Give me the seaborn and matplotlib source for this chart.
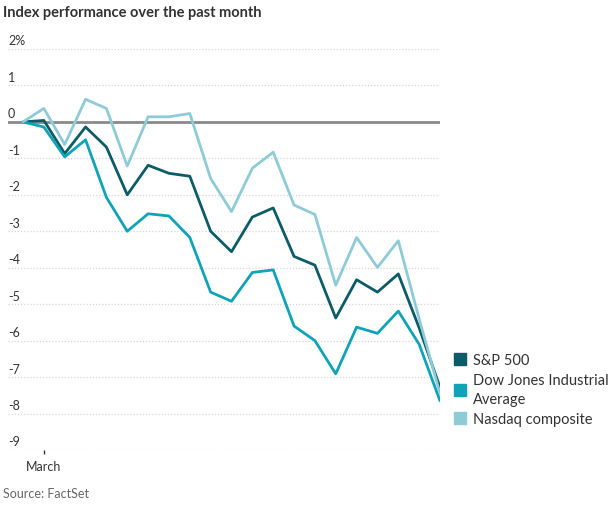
import pandas as pd
import matplotlib.pyplot as plt
import seaborn as sns
from matplotlib.lines import Line2D
from matplotlib.transforms import blended_transform_factory

# trading days, index 1 is the first session of March
days = list(range(21))
sp500 = [0, 0.04, -0.87, -0.14, -0.69, -2.00, -1.19, -1.41, -1.49, -3.00, -3.56,
         -2.61, -2.36, -3.69, -3.93, -5.38, -4.33, -4.67, -4.17, -5.65, -7.28]
dow = [0, -0.14, -0.96, -0.49, -2.07, -3.00, -2.52, -2.58, -3.17, -4.67, -4.92,
       -4.13, -4.06, -5.60, -6.00, -6.91, -5.63, -5.80, -5.19, -6.10, -7.65]
nasdaq = [0, 0.37, -0.62, 0.62, 0.37, -1.21, 0.14, 0.14, 0.23, -1.55, -2.46,
          -1.27, -0.83, -2.28, -2.54, -4.48, -3.17, -3.99, -3.26, -5.40, -7.45]

series_names = ["S&P 500", "Dow Jones Industrial\nAverage", "Nasdaq composite"]
colors = ["#0b5c66", "#0fa3b8", "#8ecbd7"]
y_ticks = [2, 1, 0, -1, -2, -3, -4, -5, -6, -7, -8, -9]
y_labels = ["2%", "1", "0", "-1", "-2", "-3", "-4", "-5", "-6", "-7", "-8", "-9"]

df = pd.DataFrame({
    "day": days * 3,
    "change": sp500 + dow + nasdaq,
    "index": [series_names[0]] * 21 + [series_names[1]] * 21 + [series_names[2]] * 21,
})

sns.set_style("white")
plt.rcParams["font.family"] = ["Lato", "DejaVu Sans"]

fig = plt.figure(figsize=(6.15, 5.06), dpi=100)
ax = fig.add_axes([8 / 615, 1 - 451 / 506, 432 / 615, 401 / 506])

# grid lines first so data sits on top
for t in y_ticks:
    if t == 0:
        ax.axhline(0, color="#8a8a8a", lw=2, zorder=1)
    else:
        ax.axhline(t, color="#ddd3da", lw=0.9, ls=(0, (1, 1.5)), zorder=0)

sns.lineplot(data=df, x="day", y="change", hue="index", palette=colors,
             linewidth=2, legend=False, ax=ax, zorder=3)

ax.set_xlim(-0.72, 20)
ax.set_ylim(-9, 2)
for s in ax.spines.values():
    s.set_visible(False)
ax.set_xlabel("")
ax.set_ylabel("")
ax.set_yticks([])
ax.set_xticks([1])
ax.set_xticklabels(["March"], fontsize=9, color="#333333")
ax.tick_params(axis="x", length=3, width=1, color="#333333", pad=4, bottom=True)

trans = blended_transform_factory(ax.transAxes, ax.transData)
for t, lab in zip(y_ticks, y_labels):
    ax.text(0, t + 0.07, lab, transform=trans, ha="left", va="bottom",
            fontsize=9, color="#333333")

handles = [Line2D([], [], ls="none", marker="s", markersize=8, color=c) for c in colors]
leg = fig.legend(handles, series_names, loc="upper left",
                 bbox_to_anchor=(454 / 615, 1 - 354 / 506),
                 frameon=False, fontsize=10.5, handlelength=0.8, handletextpad=0.5,
                 labelspacing=0.4, labelcolor="#333333", borderpad=0, borderaxespad=0)
for t in leg.get_texts():
    t.set_linespacing(1.45)

fig.text(3 / 615, 1 - 13 / 506, "Index performance over the past month",
         fontsize=10.5, fontweight="bold", color="#333333", va="center", ha="left")
fig.text(3 / 615, 1 - 494 / 506, "Source: FactSet", fontsize=9, color="#666666",
         va="center", ha="left")

fig.savefig("out.png", dpi=100)
